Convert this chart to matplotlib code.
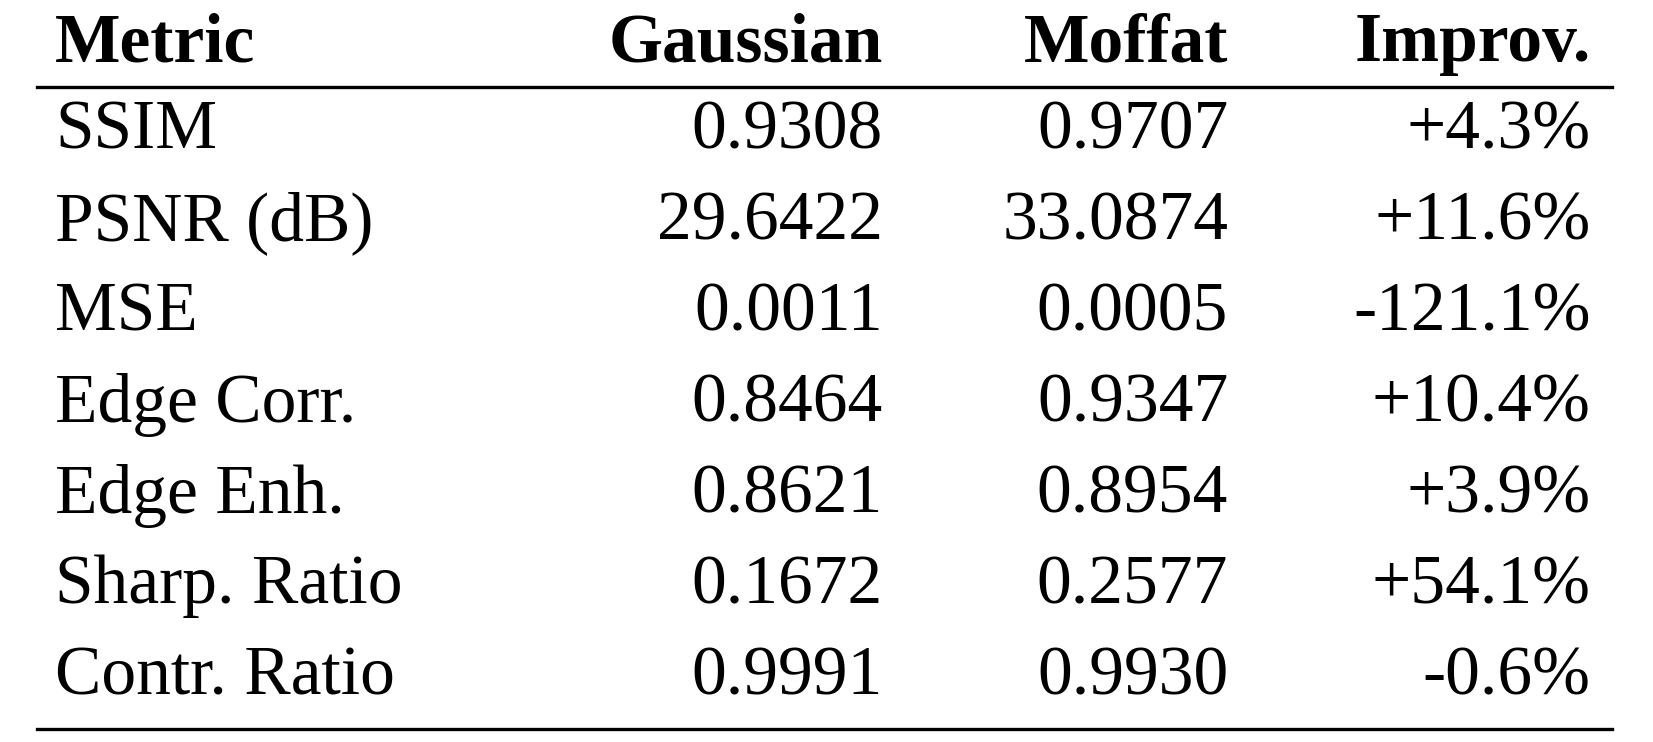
import matplotlib.pyplot as plt

# Table contents
headers = ['Metric', 'Gaussian', 'Moffat', 'Improv.']
metrics = ['SSIM', 'PSNR (dB)', 'MSE', 'Edge Corr.', 'Edge Enh.', 'Sharp. Ratio', 'Contr. Ratio']
gaussian = ['0.9308', '29.6422', '0.0011', '0.8464', '0.8621', '0.1672', '0.9991']
moffat = ['0.9707', '33.0874', '0.0005', '0.9347', '0.8954', '0.2577', '0.9930']
improv = ['+4.3%', '+11.6%', '-121.1%', '+10.4%', '+3.9%', '+54.1%', '-0.6%']

W, H = 1653, 742
s = 1.057  # reference was read at a slightly reduced scale
fig = plt.figure(figsize=(W / 100, H / 100), dpi=100)
ax = fig.add_axes([0, 0, 1, 1])
ax.set_xlim(0, W)
ax.set_ylim(H, 0)
ax.axis('off')

font = dict(family=['Liberation Serif', 'DejaVu Serif'], fontsize=50)

col_x = [52 * s, 835 * s, 1162 * s, 1505 * s]
col_ha = ['left', 'right', 'right', 'right']

header_y = 42 * s
for x, ha, h in zip(col_x, col_ha, headers):
    ax.text(x, header_y, h, ha=ha, va='center', fontweight='bold', **font)

row_y0, row_dy = 125 * s, 86 * s
for i, row in enumerate(zip(metrics, gaussian, moffat, improv)):
    y = row_y0 + i * row_dy
    for x, ha, val in zip(col_x, col_ha, row):
        ax.text(x, y, val, ha=ha, va='center', **font)

ax.plot([35 * s, 1525 * s], [82 * s, 82 * s], color='black', lw=2.4)
ax.plot([35 * s, 1525 * s], [690 * s, 690 * s], color='black', lw=2.4)

fig.savefig('out.png', dpi=100)
